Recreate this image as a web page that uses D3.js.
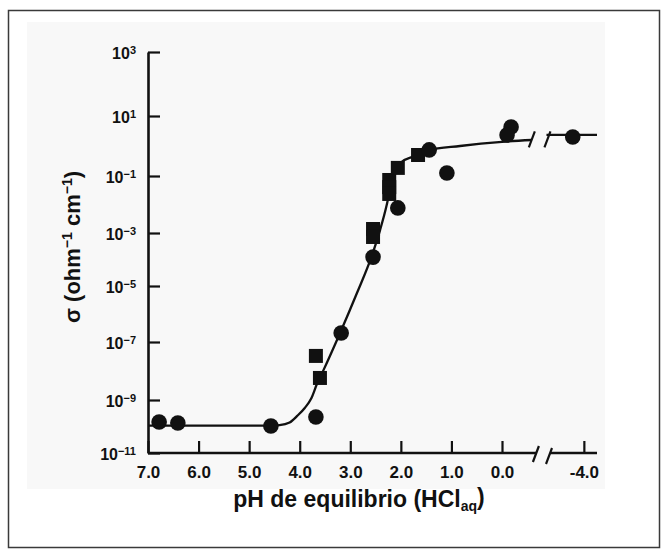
<!DOCTYPE html>
<html>
<head>
<meta charset="utf-8">
<script src="https://cdn.jsdelivr.net/npm/d3@7"></script>
<style>
  html, body { margin: 0; padding: 0; background: #ffffff; }
  svg { display: block; }
  text { font-family: "Liberation Sans", Arial, Helvetica, sans-serif; font-weight: bold; fill: #111; }
</style>
</head>
<body>
<svg id="chart" width="664" height="551"></svg>
<script>
// ---------------- data ----------------
// pH values and log10(sigma) for filled circles (main axis segment)
const circlePH = [6.78, 6.41, 4.57, 3.68, 3.18, 2.55, 2.06, 1.44, 1.09, -0.18, -0.10];
const circleLogSigma = [-9.83, -9.87, -9.98, -9.64, -6.68, -3.91, -2.12, -0.13, -0.90, 0.63, 0.37];
// filled circle beyond the axis break
const acidCirclePH = [-3.78];
const acidCircleLogSigma = [0.30];
// filled squares
const squarePH = [3.68, 3.60, 2.55, 2.55, 2.23, 2.23, 2.23, 2.06, 1.66];
const squareLogSigma = [-7.48, -8.24, -2.86, -3.15, -1.14, -1.39, -1.63, -0.73, -0.30];
// fitted curve
const fitPH = [7.0, 4.6, 4.4, 4.2, 4.05, 3.9, 3.77, 3.66, 3.53, 3.20, 2.87, 2.58, 2.41, 2.28, 2.2, 2.12, 2.0, 1.75, 1.46, 0.83, 0.0, -0.59];
const fitLogSigma = [-9.97, -9.97, -9.95, -9.85, -9.6, -9.3, -8.94, -8.45, -7.97, -6.67, -5.26, -3.89, -2.89, -2.02, -1.35, -0.85, -0.55, -0.35, -0.15, 0.0, 0.14, 0.20];
const fitAcidPH = [-3.26, -4.26];
const fitAcidLogSigma = [0.37, 0.37];
// ticks
const xTickValues = [7, 6, 5, 4, 3, 2, 1, 0];
const xTickLabels = ["7.0", "6.0", "5.0", "4.0", "3.0", "2.0", "1.0", "0.0"];
const xAcidTickValues = [-4];
const xAcidTickLabels = ["-4.0"];
const yTickExponents = [3, 1, -1, -3, -5, -7, -9, -11];
const breakPH = -0.69;

// ---------------- layout ----------------
const svg = d3.select("#chart");

// frame + panel
svg.append("rect").attr("x", 8.5).attr("y", 10.5).attr("width", 651).attr("height", 537)
  .attr("fill", "#ffffff").attr("stroke", "#3a3a3a").attr("stroke-width", 1.5);
svg.append("rect").attr("x", 27).attr("y", 22).attr("width", 578).attr("height", 467)
  .attr("fill", "#f8f8f8");

// scales
const x = d3.scaleLinear().domain([7, 0]).range([148, 502]);
const xAcid = d3.scaleLinear().domain([-3.33, -4.26]).range([550, 597]);
const y = d3.scaleLog()
  .domain([1e-11, 1e-9, 1e-7, 1e-5, 1e-3, 1e-1, 1e1, 1e3])
  .range([453, 400, 342, 286, 233, 176, 116, 52]);
const yBase = y.range()[0];

const ink = "#111";

// ---------------- y axis ----------------
const yAxis = d3.axisLeft(y)
  .tickValues(yTickExponents.map(e => Math.pow(10, e)))
  .tickSizeInner(-12).tickSizeOuter(0).tickPadding(12)
  .tickFormat((d, i) => "10");
const gy = svg.append("g").attr("transform", `translate(${x(7)},0)`).call(yAxis);
gy.select(".domain").attr("stroke", ink).attr("stroke-width", 2.6);
gy.selectAll(".tick line").attr("stroke", ink).attr("stroke-width", 2.2);
gy.selectAll(".tick text").each(function(d, i) {
  const t = d3.select(this);
  t.text(null).attr("font-size", 16).attr("fill", ink).attr("dy", "0.4em");
  t.append("tspan").text("10");
  t.append("tspan").attr("dy", "-0.45em").attr("font-size", 11).text(yTickExponents[i] < 0 ? "\u2212" + (-yTickExponents[i]) : String(yTickExponents[i]));
});

// ---------------- x axis (main + after break) ----------------
const xAxis = d3.axisBottom(x)
  .tickValues(xTickValues)
  .tickSizeInner(-12).tickSizeOuter(0).tickPadding(9)
  .tickFormat((d, i) => xTickLabels[i]);
const gx = svg.append("g").attr("transform", `translate(0,${yBase})`).call(xAxis);
gx.select(".domain").remove();
gx.selectAll(".tick line").attr("stroke", ink).attr("stroke-width", 2.2);
gx.selectAll(".tick text").attr("font-size", 17).attr("fill", ink).attr("dy", "0.95em");

const xAxisAcid = d3.axisBottom(xAcid)
  .tickValues(xAcidTickValues)
  .tickSizeInner(-12).tickSizeOuter(0).tickPadding(9)
  .tickFormat((d, i) => xAcidTickLabels[i]);
const gxa = svg.append("g").attr("transform", `translate(0,${yBase})`).call(xAxisAcid);
gxa.select(".domain").remove();
gxa.selectAll(".tick line").attr("stroke", ink).attr("stroke-width", 2.2);
gxa.selectAll(".tick text").attr("font-size", 17).attr("fill", ink).attr("dy", "0.95em");

// axis baseline segments
svg.append("line").attr("x1", x(7)).attr("x2", x(breakPH)).attr("y1", yBase).attr("y2", yBase)
  .attr("stroke", ink).attr("stroke-width", 2.6);
svg.append("line").attr("x1", xAcid.range()[0]).attr("x2", xAcid.range()[1]).attr("y1", yBase).attr("y2", yBase)
  .attr("stroke", ink).attr("stroke-width", 2.6);

// break marks helper
function breakMark(cx, cy) {
  svg.append("line").attr("x1", cx - 3).attr("y1", cy + 8).attr("x2", cx + 3).attr("y2", cy - 8)
    .attr("stroke", ink).attr("stroke-width", 2.2);
}
breakMark(x(breakPH) - 1, yBase + 1);
breakMark(xAcid.range()[0] - 1, yBase + 3);

// ---------------- fitted curve ----------------
const line = d3.line().curve(d3.curveMonotoneX);
const fitPts = fitPH.map((p, i) => [x(p), y(Math.pow(10, fitLogSigma[i]))]);
svg.append("path").attr("d", line(fitPts)).attr("fill", "none").attr("stroke", ink).attr("stroke-width", 2.3);
const fitAcidPts = fitAcidPH.map((p, i) => [xAcid(p), y(Math.pow(10, fitAcidLogSigma[i]))]);
svg.append("path").attr("d", line(fitAcidPts)).attr("fill", "none").attr("stroke", ink).attr("stroke-width", 2.3);
// break marks on the curve
const curveBreakY = (fitPts[fitPts.length - 1][1] + fitAcidPts[0][1]) / 2 + 2;
breakMark(fitPts[fitPts.length - 1][0], curveBreakY);
breakMark(fitAcidPts[0][0] + 1, curveBreakY);

// ---------------- markers ----------------
const sq = 14;
svg.append("g").selectAll("rect").data(squarePH.map((p, i) => [p, squareLogSigma[i]]))
  .join("rect")
  .attr("x", d => x(d[0]) - sq / 2).attr("y", d => y(Math.pow(10, d[1])) - sq / 2)
  .attr("width", sq).attr("height", sq).attr("fill", ink);

svg.append("g").selectAll("circle").data(circlePH.map((p, i) => [p, circleLogSigma[i]]))
  .join("circle")
  .attr("cx", d => x(d[0])).attr("cy", d => y(Math.pow(10, d[1]))).attr("r", 7.8).attr("fill", ink);

svg.append("g").selectAll("circle").data(acidCirclePH.map((p, i) => [p, acidCircleLogSigma[i]]))
  .join("circle")
  .attr("cx", d => xAcid(d[0])).attr("cy", d => y(Math.pow(10, d[1]))).attr("r", 7.8).attr("fill", ink);

// ---------------- axis titles ----------------
const xt = svg.append("text").attr("x", 359).attr("y", 507).attr("text-anchor", "middle")
  .attr("font-size", 23).attr("fill", ink);
xt.append("tspan").text("pH de equilibrio (HCl");
xt.append("tspan").attr("font-size", 14).attr("dy", "0.25em").text("aq");
xt.append("tspan").attr("dy", "-0.25em").attr("font-size", 23).text(")");

const yt = svg.append("text").attr("transform", "translate(80,247) rotate(-90)")
  .attr("text-anchor", "middle").attr("font-size", 22).attr("fill", ink);
yt.append("tspan").text("\u03c3 (ohm");
yt.append("tspan").attr("font-size", 14).attr("dy", "-0.55em").text("\u22121");
yt.append("tspan").attr("font-size", 22).attr("dy", "0.35em").text(" cm");
yt.append("tspan").attr("font-size", 14).attr("dy", "-0.55em").text("\u22121");
yt.append("tspan").attr("font-size", 22).attr("dy", "0.35em").text(")");
</script>
</body>
</html>
